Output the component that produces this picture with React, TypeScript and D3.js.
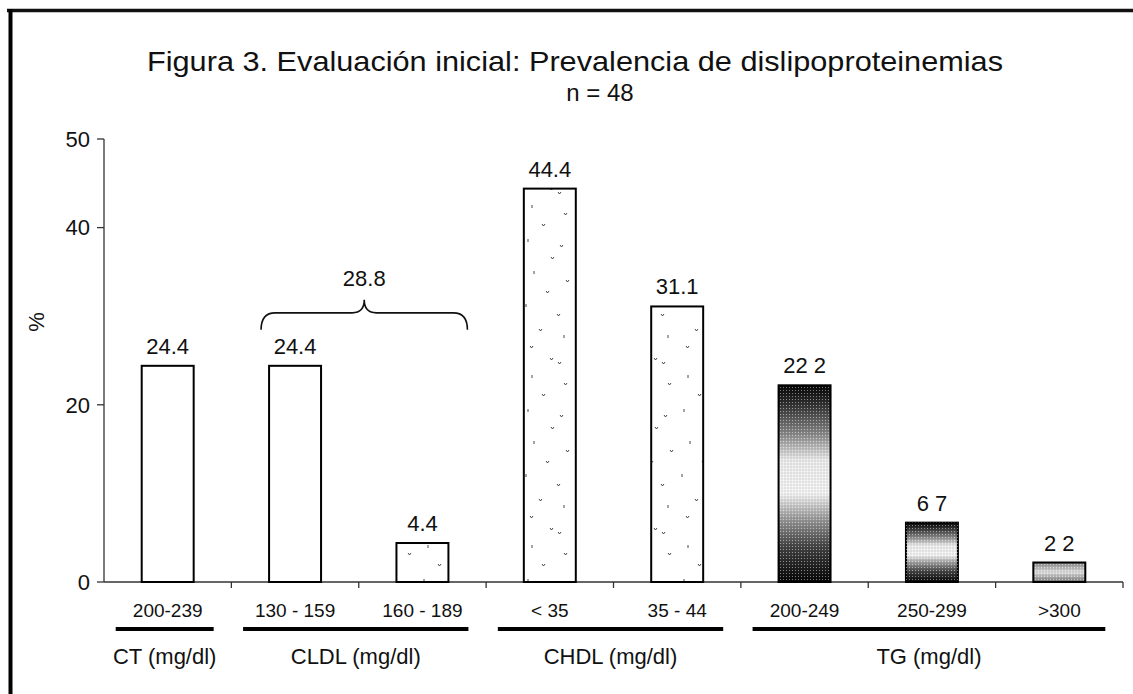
import * as d3 from 'd3';

// datos
const categories = ['200-239', '130 - 159', '160 - 189', '< 35', '35 - 44', '200-249', '250-299', '>300'];
const values = [24.4, 24.4, 4.4, 44.4, 31.1, 22.2, 6.7, 2.2];
const valueLabels = ['24.4', '24.4', '4.4', '44.4', '31.1', '22 2', '6 7', '2 2'];
const groupNames = ['CT (mg/dl)', 'CLDL (mg/dl)', 'CHDL (mg/dl)', 'TG (mg/dl)'];
const groupFirst = [0, 1, 3, 5];
const groupLast = [0, 2, 4, 7];
const yTicks = [0, 20, 40, 50];
const braceValue = 28.8;
const braceFirst = 1, braceLast = 2;

const W = 1133, H = 694;
const FONT = '"Liberation Sans", Arial, sans-serif';

// texturas (solo estilo)
const speckled = new Set(['160 - 189', '< 35', '35 - 44']);
const shaded = new Set(['200-249', '250-299']);
const light = new Set(['>300']);

const specks = [
	[30, 5], [38, 9], [12, 22], [44, 30], [22, 41], [8, 56], [40, 62], [31, 74],
	[14, 88], [46, 97], [26, 108], [6, 121], [37, 131], [19, 146], [44, 152], [10, 163]
];

function App(){
	const x = d3.scaleBand().domain(categories).range([104, 1123]).paddingInner(0.592).paddingOuter(0.296)
		, y = d3.scaleLinear().domain([0, 50]).range([582, 139])
		, bw = x.bandwidth()
		, step = x.step()
		, slotLeft = (c) => (x(c) as number) - (step - bw) / 2
		, bx0 = (x(categories[braceFirst]) as number) - 8
		, bx1 = (x(categories[braceLast]) as number) + bw + 19
		, bm = (bx0 + bx1) / 2
		, by = y(braceValue)
		, yEnd = by + 3
		, yFlat = by - 14
		, yPeak = by - 27
		, bracePath = `M${bx0},${yEnd} Q${bx0},${yFlat} ${bx0 + 14},${yFlat} L${bm - 12},${yFlat} Q${bm},${yFlat} ${bm},${yPeak} Q${bm},${yFlat} ${bm + 12},${yFlat} L${bx1 - 14},${yFlat} Q${bx1},${yFlat} ${bx1},${yEnd}`
		;

	const fillFor = (c) => {
		if(speckled.has(c)) return 'url(#speck)';
		if(shaded.has(c)) return 'url(#shade)';
		if(light.has(c)) return 'url(#lightShade)';
		return '#fff';
	};

	return (<svg width={W} height={H} style={{position: 'absolute', left: 0, top: 0, background: '#fff'}}
	             fontFamily={FONT}>
		<defs>
			<pattern id="speck" patternUnits="userSpaceOnUse" width="52" height="170" x="0" y="13">
				<rect width="52" height="170" fill="#fff"/>
				{specks.map((p, i) => i % 3 === 2
					? <path key={i} d={`M${p[0]},${p[1]} l0,3`} stroke="#333" strokeWidth="0.9" fill="none"/>
					: <path key={i} d={`M${p[0]},${p[1]} l1.5,2 l1.5,-2`} stroke="#333" strokeWidth="0.9" fill="none"/>)}
			</pattern>
			<linearGradient id="shade" x1="0" y1="0" x2="0" y2="1">
				<stop offset="0" stopColor="#050505"/>
				<stop offset="0.1" stopColor="#333"/>
				<stop offset="0.25" stopColor="#8a8a8a"/>
				<stop offset="0.38" stopColor="#eaeaea"/>
				<stop offset="0.55" stopColor="#f2f2f2"/>
				<stop offset="0.68" stopColor="#999"/>
				<stop offset="0.82" stopColor="#444"/>
				<stop offset="1" stopColor="#050505"/>
			</linearGradient>
			<linearGradient id="lightShade" x1="0" y1="0" x2="0" y2="1">
				<stop offset="0" stopColor="#888"/>
				<stop offset="0.5" stopColor="#e0e0e0"/>
				<stop offset="1" stopColor="#777"/>
			</linearGradient>
			<pattern id="dots" patternUnits="userSpaceOnUse" width="3" height="3">
				<rect x="0" y="0" width="1" height="1" fill="#fff" fillOpacity="0.45"/>
				<rect x="1.5" y="1.5" width="1" height="1" fill="#000" fillOpacity="0.25"/>
			</pattern>
		</defs>

		{/* marco */}
		<line x1={7} x2={W} y1={10.5} y2={10.5} stroke="#111" strokeWidth={3.5}/>
		<line x1={10.5} x2={10.5} y1={9} y2={H} stroke="#000" strokeWidth={4}/>

		{/* título */}
		<text x={575} y={71} textAnchor="middle" fontSize={28} fill="#111"
		      textLength={856} lengthAdjust="spacingAndGlyphs">Figura 3. Evaluación inicial: Prevalencia de dislipoproteinemias</text>
		<text x={600} y={101} textAnchor="middle" fontSize={24} fill="#111">n = 48</text>

		{/* eje y */}
		<line x1={104} x2={104} y1={y(50)} y2={y(0)} stroke="#333" strokeWidth={1.3}/>
		{yTicks.map((t) => (<g key={t}>
			<line x1={97} x2={104} y1={y(t)} y2={y(t)} stroke="#333" strokeWidth={1.3}/>
			<text x={90} y={y(t)} dy="0.35em" textAnchor="end" fontSize={22} fill="#111">{t}</text>
		</g>))}
		<text transform="translate(44,322) rotate(-90)" textAnchor="middle" fontSize={22} fill="#111">%</text>

		{/* eje x */}
		<line x1={104} x2={1123} y1={y(0)} y2={y(0)} stroke="#333" strokeWidth={1.3}/>
		{categories.map((c) => (<line key={c} x1={slotLeft(c) + step} x2={slotLeft(c) + step} y1={y(0)} y2={y(0) + 6}
		                              stroke="#333" strokeWidth={1.3}/>))}

		{/* barras */}
		{categories.map((c, i) => (<g key={c}>
			<rect x={x(c)} y={y(values[i])} width={bw} height={y(0) - y(values[i])}
			      fill={fillFor(c)} stroke="#000" strokeWidth={2}/>
			{(shaded.has(c) || light.has(c)) && <rect x={x(c)} y={y(values[i])} width={bw} height={y(0) - y(values[i])}
			                                             fill="url(#dots)"/>}
			<text x={(x(c) as number) + bw / 2} y={y(values[i]) - 12} textAnchor="middle" fontSize={22}
			      fill="#111">{valueLabels[i]}</text>
			<text x={(x(c) as number) + bw / 2} y={617} textAnchor="middle" fontSize={19}
			      fill="#111">{categories[i]}</text>
		</g>))}

		{/* llave CLDL */}
		<path d={bracePath} fill="none" stroke="#111" strokeWidth={1.6}/>
		<text x={bm} y={yPeak - 14} textAnchor="middle" fontSize={22} fill="#111">{braceValue.toFixed(1)}</text>

		{/* grupos */}
		{groupNames.map((g, i) => {
			const gx0 = (x(categories[groupFirst[i]]) as number) - 26
				, gx1 = (x(categories[groupLast[i]]) as number) + bw + 20
				;

			return (<g key={g}>
				<line x1={gx0} x2={gx1} y1={629} y2={629} stroke="#000" strokeWidth={4}/>
				<text x={(gx0 + gx1) / 2} y={664} textAnchor="middle" fontSize={22} fill="#111">{g}</text>
			</g>);
		})}
	</svg>);
}

export default App;
